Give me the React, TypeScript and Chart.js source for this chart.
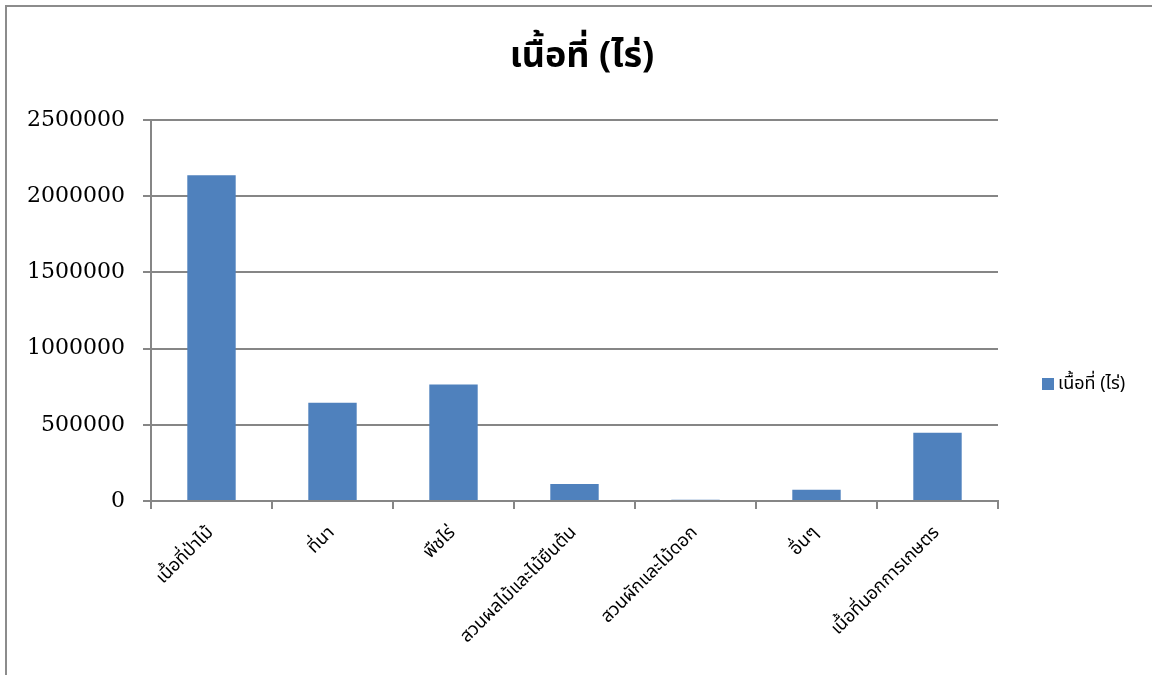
import React, { useEffect, useRef } from "react";
import { Chart, registerables } from "chart.js";

Chart.register(...registerables);

const categories = [
  "เนื้อที่ป่าไม้",
  "ที่นา",
  "พืชไร่",
  "สวนผลไม้และไม้ยืนต้น",
  "สวนผักและไม้ดอก",
  "อื่นๆ",
  "เนื้อที่นอกการเกษตร",
];
const areaRai = [2138000, 645000, 764000, 112000, 8000, 74000, 448000];
const seriesLabel = "เนื้อที่ (ไร่)";
const titleText = "เนื้อที่ (ไร่)";
const yMin = 0;
const yMax = 2500000;
const yStep = 500000;

const BAR_COLOR = "#4F81BD";
const AXIS_COLOR = "#868686";
const THAI_FONT = "Tahoma, 'Noto Sans Thai', 'Noto Sans', 'DejaVu Sans', sans-serif";

const framePlugin = {
  id: "frame",
  beforeDraw(chart: any) {
    const ctx = chart.ctx;
    ctx.save();
    ctx.fillStyle = "#ffffff";
    ctx.fillRect(0, 0, chart.width, chart.height);
    ctx.strokeStyle = "#8c8c8c";
    ctx.lineWidth = 2;
    ctx.beginPath();
    ctx.moveTo(6, chart.height + 2);
    ctx.lineTo(6, 6);
    ctx.lineTo(chart.width + 2, 6);
    ctx.stroke();
    ctx.restore();
  },
  afterDraw(chart: any) {
    const ctx = chart.ctx;
    ctx.save();
    // title
    ctx.fillStyle = "#000000";
    ctx.font = "bold 36px " + THAI_FONT;
    ctx.textAlign = "center";
    ctx.textBaseline = "alphabetic";
    ctx.fillText(titleText, 582, 67);
    // legend
    const ds = chart.data.datasets[0];
    const x = chart.chartArea.right + 44;
    const y = 384;
    ctx.fillStyle = ds.backgroundColor;
    ctx.fillRect(x, y - 6, 12, 12);
    ctx.fillStyle = "#000000";
    ctx.font = "18px " + THAI_FONT;
    ctx.textAlign = "left";
    ctx.textBaseline = "middle";
    ctx.fillText(ds.label, x + 16, y + 1);
    ctx.restore();
  },
};

export default function App() {
  const ref = useRef<HTMLCanvasElement | null>(null);

  useEffect(() => {
    if (!ref.current) return;
    const chart = new Chart(ref.current, {
      type: "bar",
      data: {
        labels: categories,
        datasets: [
          {
            label: seriesLabel,
            data: areaRai,
            backgroundColor: BAR_COLOR,
            barPercentage: 0.4,
            categoryPercentage: 1.0,
          },
        ],
      },
      plugins: [framePlugin],
      options: {
        responsive: false,
        animation: false,
        layout: { padding: { left: 0, right: 154, top: 120, bottom: 0 } },
        plugins: {
          legend: { display: false },
          tooltip: { enabled: false },
          title: { display: false },
        },
        scales: {
          x: {
            offset: true,
            grid: {
              offset: true,
              drawOnChartArea: false,
              drawTicks: true,
              tickLength: 8,
              color: AXIS_COLOR,
              lineWidth: 2,
            },
            border: { color: AXIS_COLOR, width: 2 },
            ticks: {
              color: "#000000",
              font: { family: THAI_FONT, size: 18 },
              minRotation: 45,
              maxRotation: 45,
              autoSkip: false,
              padding: 14,
            },
            afterFit(scale: any) {
              scale.height = 174;
            },
          },
          y: {
            min: yMin,
            max: yMax,
            grid: {
              color: AXIS_COLOR,
              lineWidth: 2,
              tickLength: 8,
              drawTicks: true,
            },
            border: { color: AXIS_COLOR, width: 2 },
            ticks: {
              stepSize: yStep,
              color: "#000000",
              font: { family: "'DejaVu Serif', serif", size: 22 },
              padding: 18,
              callback: (v: any) => String(v),
            },
            afterFit(scale: any) {
              scale.width = 151;
            },
          },
        },
      },
    });
    return () => chart.destroy();
  }, []);

  return (
    <div style={{ position: "absolute", left: 0, top: 0, width: 1152, height: 675 }}>
      <canvas ref={ref} width={1152} height={675} style={{ display: "block" }} />
    </div>
  );
}
